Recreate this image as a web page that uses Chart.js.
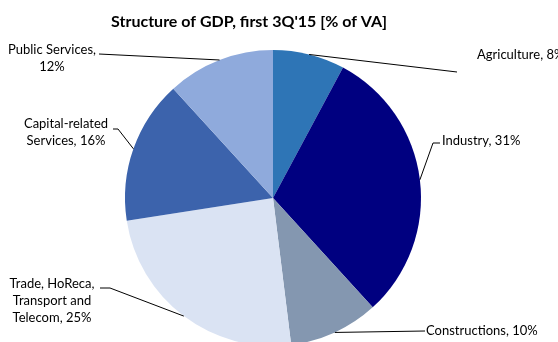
<!DOCTYPE html>
<html>
<head>
<meta charset="utf-8">
<script src="https://cdn.jsdelivr.net/npm/chart.js@4.4.0/dist/chart.umd.min.js"></script>
<style>
  body { margin: 0; background: #fff; }
  #wrap { width: 558px; height: 342px; position: relative; }
</style>
</head>
<body>
<div id="wrap"><canvas id="gdpChart"></canvas></div>
<script>
// Structure of GDP, first 3Q'15 [% of VA]
const sectors = ['Agriculture', 'Industry', 'Constructions', 'Trade, HoReca, Transport and Telecom', 'Capital-related Services', 'Public Services'];
const shares = [8, 31, 10, 25, 16, 12];
const sliceColors = ['#2E75B6', '#000080', '#8497B0', '#DAE3F3', '#3C63AC', '#8FAADC'];

// label text lines, as wrapped in the original
const labelLines = [
    ['Agriculture, 8%'],
    ['Industry, 31%'],
    ['Constructions, 10%'],
    ['Trade, HoReca,', 'Transport and', 'Telecom, 25%'],
    ['Capital-related', 'Services, 16%'],
    ['Public Services,', '12%']
];

// where each label sits and where its leader line ends
const labelPlace = [
    { x: 477, y: 55, align: 'left', line: [[457, 72]] },
    { x: 442, y: 141, align: 'left', line: [[433, 143], [440, 143]] },
    { x: 426, y: 331, align: 'left', line: [[425, 331]] },
    { x: 52, y: 284, align: 'center', line: [[110, 288], [100, 288]] },
    { x: 66, y: 124, align: 'center', line: [[118, 129], [113, 129]] },
    { x: 52, y: 50, align: 'center', line: [[99, 54]] }
];

const labelPlugin = {
    id: 'sliceLabels',
    afterDraw(chart) {
        const ctx = chart.ctx;
        const arcs = chart.getDatasetMeta(0).data;
        ctx.save();
        // title
        ctx.fillStyle = '#000';
        ctx.font = 'bold 16px Lato';
        ctx.textAlign = 'center';
        ctx.textBaseline = 'middle';
        ctx.fillText("Structure of GDP, first 3Q'15 [% of VA]", 249, 22);

        ctx.font = '13px Lato';
        arcs.forEach((arc, i) => {
            const p = arc.getProps(['x', 'y', 'startAngle', 'endAngle', 'outerRadius'], true);
            const mid = (p.startAngle + p.endAngle) / 2;
            const sx = p.x + Math.cos(mid) * p.outerRadius;
            const sy = p.y + Math.sin(mid) * p.outerRadius;
            const place = labelPlace[i];
            ctx.strokeStyle = '#000';
            ctx.lineWidth = 1;
            ctx.beginPath();
            ctx.moveTo(sx, sy);
            place.line.forEach(pt => ctx.lineTo(pt[0], pt[1]));
            ctx.stroke();

            ctx.textAlign = place.align;
            labelLines[i].forEach((t, k) => {
                ctx.fillText(t, place.x, place.y + k * 17);
            });
        });
        ctx.restore();
    }
};

const ctx = document.getElementById('gdpChart').getContext('2d');
const chart = new Chart(ctx, {
    type: 'pie',
    data: {
        labels: sectors,
        datasets: [{
            data: shares,
            backgroundColor: sliceColors,
            borderWidth: 0,
            radius: 148
        }]
    },
    options: {
        responsive: true,
        maintainAspectRatio: false,
        animation: false,
        layout: { padding: { top: 54, bottom: 0, left: 0, right: 12 } },
        plugins: {
            legend: { display: false },
            tooltip: { enabled: false }
        }
    },
    plugins: [labelPlugin]
});
</script>
</body>
</html>
